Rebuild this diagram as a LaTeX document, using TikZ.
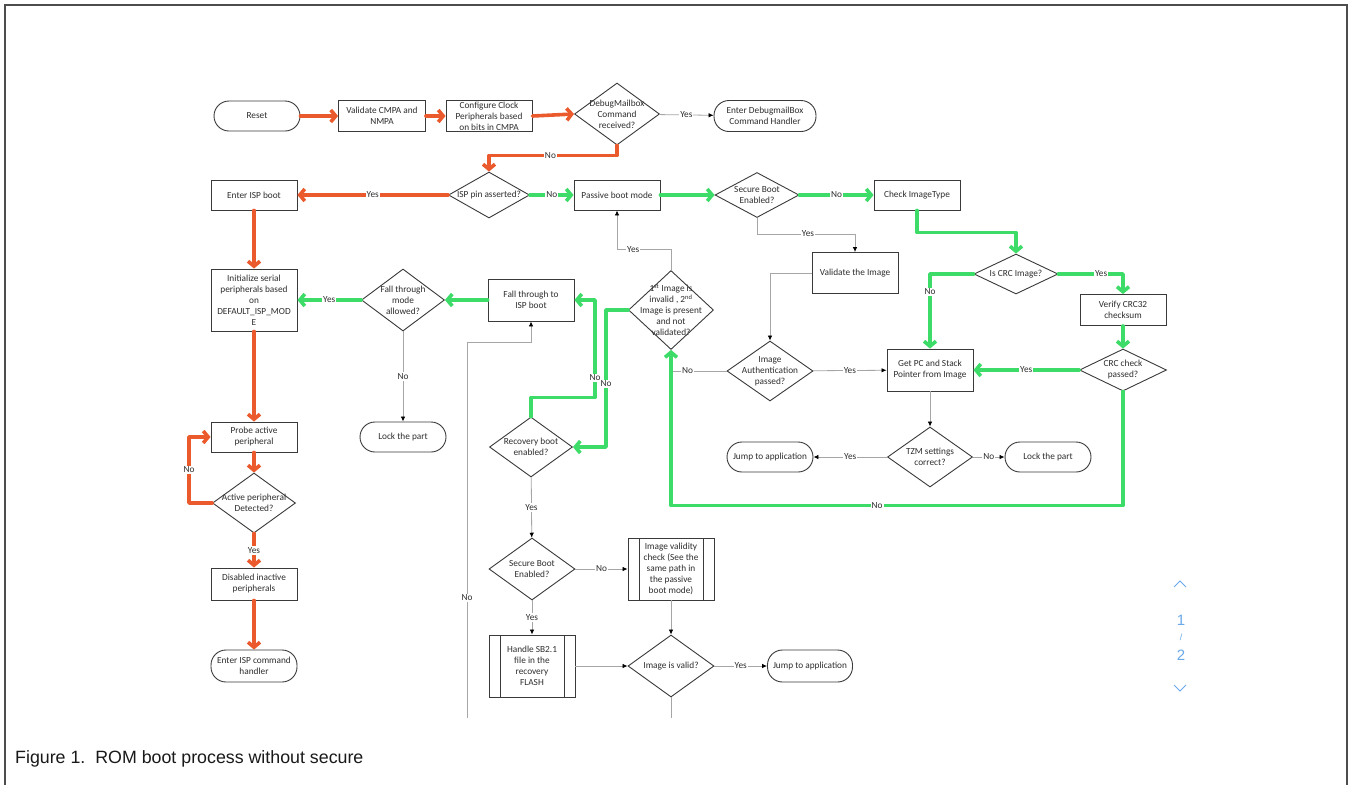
\documentclass[tikz,border=0pt]{standalone}
\usepackage{fontspec}
\newfontfamily\dgmfont{Carlito}
\newfontfamily\capfont{Liberation Sans}
\usetikzlibrary{shapes.geometric,arrows.meta}
\definecolor{bxc}{HTML}{3A3A3A}
\definecolor{lnc}{HTML}{A6A6A6}
\definecolor{txc}{HTML}{2E2E2E}
\definecolor{orn}{HTML}{EA5A2C}
\definecolor{grn}{HTML}{3DDB68}
\definecolor{nav}{HTML}{6AA8E8}
\definecolor{frc}{HTML}{4D4D4D}
\begin{document}
\begin{tikzpicture}[
	x=1pt, y=-1pt,
	font=\dgmfont\fontsize{9.3}{11}\selectfont,
	bx/.style={draw=bxc, line width=0.9pt, text=txc, align=center, inner sep=1pt, minimum width=86pt, minimum height=30pt},
	tm/.style={bx, rounded corners=15pt},
	pp/.style={bx, minimum height=62pt, path picture={
		\draw[bxc, line width=0.9pt] ([xshift=11pt]path picture bounding box.north west) -- ([xshift=11pt]path picture bounding box.south west)
			([xshift=-11pt]path picture bounding box.north east) -- ([xshift=-11pt]path picture bounding box.south east);}},
	dc/.style 2 args={draw=bxc, line width=0.9pt, diamond, inner sep=0pt, minimum width=#1pt, minimum height=#2pt},
	every label/.style={align=center, text=txc, inner sep=0pt},
	gc/.style={draw=lnc, line width=0.8pt, -{Latex[length=5pt, width=4.5pt, color=black]}},
	og/.style={draw=orn, line width=3.6pt, line cap=round, line join=round, -{Straight Barb[length=5pt, width=12pt]}},
	gg/.style={og, draw=grn},
	yn/.style={fill=white, text=txc, inner sep=1pt},
	figcap/.style={font=\capfont\fontsize{17.8}{20}\selectfont, text=black!90, inner sep=0pt},
	pg/.style={font=\capfont\fontsize{15}{15}\selectfont, text=nav, inner sep=0pt},
	]
\fill[white] (0,0) rectangle (1352,785);
\useasboundingbox (0,0) rectangle (1352,785);
\draw[frc, line width=1.5pt] (5,785) -- (5,5) -- (1347,5) -- (1347,785);

\node[tm] (rst) at (257,116) {Reset};
\node[bx, minimum width=87pt, minimum height=31pt] (vcm) at (382,116) {Validate CMPA and\\NMPA};
\node[bx, minimum height=31pt] (cfg) at (489,116) {Configure Clock\\Peripherals based\\on bits in CMPA};
\node[dc={85}{62}, label={center:DebugMailbox\\Command\\received?}] (dbg) at (617,114) {};
\node[tm, minimum width=102pt, minimum height=31pt] (hdl) at (765,116) {Enter DebugmailBox\\Command Handler};
\node[bx] (eisp) at (254,195) {Enter ISP boot};
\node[dc={81}{46}, label={center:ISP pin asserted?}] (isp) at (489,195) {};
\node[bx] (pbm) at (617,195) {Passive boot mode};
\node[dc={84}{45}, label={center:Secure Boot\\Enabled?}] (sb1) at (757,195) {};
\node[bx] (cit) at (917,195) {Check ImageType};
\node[bx, minimum height=41pt] (vimg) at (855,273) {Validate the Image};
\node[dc={84}{40}, label={center:Is CRC Image?}] (crc) at (1016,274) {};
\node[bx, minimum height=31pt] (vcrc) at (1123,310) {Verify CRC32\\checksum};
\node[bx, minimum height=62pt] (ini) at (254,300) {Initialize serial\\peripherals based\\on\\DEFAULT\_ISP\_MOD\\E};
\node[dc={83}{62}, label={center:Fall through\\mode\\allowed?}] (ftm) at (403,300) {};
\node[bx, minimum height=42pt] (fti) at (531,300) {Fall through to\\ISP boot};
\node[dc={85}{79}, label={center:1\textsuperscript{st} Image is\\invalid , 2\textsuperscript{nd}\\Image is present\\and not\\validated?}] (img2) at (671,310) {};
\node[dc={86}{60}, label={center:Image\\Authentication\\passed?}] (auth) at (770,371) {};
\node[bx, minimum height=42pt] (gpc) at (930,370) {Get PC and Stack\\Pointer from Image};
\node[dc={87}{42}, label={center:CRC check\\passed?}] (crcp) at (1123,370) {};
\node[dc={85}{60}, label={center:TZM settings\\correct?}] (tzm) at (930,457) {};
\node[tm] (jmp1) at (770,457) {Jump to application};
\node[tm] (lck1) at (1048,457) {Lock the part};
\node[tm] (lck2) at (403,437) {Lock the part};
\node[bx] (prb) at (254,437) {Probe active\\peripheral};
\node[dc={83}{60}, label={center:Active peripheral\\Detected?}] (act) at (254,503) {};
\node[bx, minimum height=32pt] (dis) at (254,584) {Disabled inactive\\peripherals};
\node[tm, minimum height=32pt] (ecmd) at (254,666) {Enter ISP command\\handler};
\node[dc={83}{60}, label={center:Recovery boot\\enabled?}] (rec) at (531,447) {};
\node[dc={86}{62}, label={center:Secure Boot\\Enabled?}] (sb2) at (532,569) {};
\node[pp] (ivc) at (671,569) {Image validity\\check (See the\\same path in\\the passive\\boot mode)};
\node[pp] (hsb) at (532,666) {Handle SB2.1\\file in the\\recovery\\FLASH};
\node[dc={86}{62}, label={center:Image is valid?}] (ivd) at (671,666) {};
\node[tm, minimum width=85pt, minimum height=32pt] (jmp2) at (810,666) {Jump to application};
\coordinate (nend) at (467,718);
\coordinate (vend) at (671,718);

\draw[gc] (dbg) -- node[yn] {Yes} (hdl);
\draw[gc] (sb1.south) -- ++(0,16) -| node[yn, pos=0.26] {Yes} (vimg.north);
\draw[gc] (vimg.west) -| (auth.north);
\draw[gc] (auth) -- node[yn] {Yes} (gpc);
\draw[gc] (auth.west) -| node[yn, pos=0.35] {No} (img2.south);
\draw[gc] (gpc) -- (tzm);
\draw[gc] (tzm) -- node[yn] {Yes} (jmp1);
\draw[gc] (tzm) -- node[yn] {No} (lck1);
\draw[gc] (img2.north) -- ++(0,-21) -| node[yn, pos=0.35] {Yes} (pbm.south);
\draw[gc] (ftm) -- node[yn] {No} (lck2);
\draw[gc] (nend) -- node[yn, pos=0.32] {No} ++(0,-376) -| (fti.south);
\draw[gc] (rec) -- node[yn] {Yes} (sb2);
\draw[gc] (sb2) -- node[yn] {No} (ivc);
\draw[gc] (sb2) -- node[yn] {Yes} (hsb);
\draw[gc] (hsb) -- (ivd);
\draw[gc] (ivc) -- (ivd);
\draw[gc] (ivd) -- node[yn] {Yes} (jmp2);
\draw[lnc, line width=0.8pt] (ivd.south) -- (vend);

\draw[og] (rst) -- (vcm);
\draw[og] (vcm) -- (cfg);
\draw[og] (cfg.east) -- (dbg.west);
\draw[og] (dbg.south) -- ++(0,10) -| node[yn, pos=0.26] {No} (isp.north);
\draw[og] (isp) -- node[yn] {Yes} (eisp);
\draw[og] (eisp) -- (ini);
\draw[og] (ini) -- (prb);
\draw[og] (prb) -- (act);
\draw[og] (act.west) -- ++(-23,0) |- node[yn, pos=0.25] {No} (prb.west);
\draw[og] (act) -- node[yn] {Yes} (dis);
\draw[og] (dis) -- (ecmd);

\draw[gg] (isp) -- node[yn] {No} (pbm);
\draw[gg] (pbm) -- (sb1);
\draw[gg] (sb1) -- node[yn] {No} (cit);
\draw[gg] (cit.south) -- ++(0,22) -| (crc.north);
\draw[gg] (crc.east) -| node[yn, pos=0.33] {Yes} (vcrc.north);
\draw[gg] (crc.west) -| node[yn, pos=0.62] {No} (gpc.north);
\draw[gg] (vcrc) -- (crcp);
\draw[gg] (crcp) -- node[yn] {Yes} (gpc);
\draw[gg] (crcp.south) -- ++(0,114) -| node[yn, pos=0.272] {No} (img2.south);
\draw[gg] (img2.west) -- ++(-22,0) |- node[yn, pos=0.27] {No} (rec.east);
\draw[gg] (rec.north) -- ++(0,-19) -- ++(64,0) |- node[yn, pos=0.1] {No} (fti.east);
\draw[gg] (fti) -- (ftm);
\draw[gg] (ftm) -- node[yn] {Yes} (ini);

\draw[nav, line width=1pt] (1174,587) -- (1180,581) -- (1186,587);
\node[pg] (pg1) at (1181,620) {1};
\node[pg, font=\capfont\fontsize{9}{9}\selectfont] (pgs) at (1181,637) {/};
\node[pg] (pg2) at (1181,655) {2};
\draw[nav, line width=1pt] (1174,685) -- (1180,691) -- (1186,685);

\node[figcap, anchor=base west] (fig) at (15,763) {Figure 1.\ \ ROM boot process without secure};
\end{tikzpicture}
\end{document}
